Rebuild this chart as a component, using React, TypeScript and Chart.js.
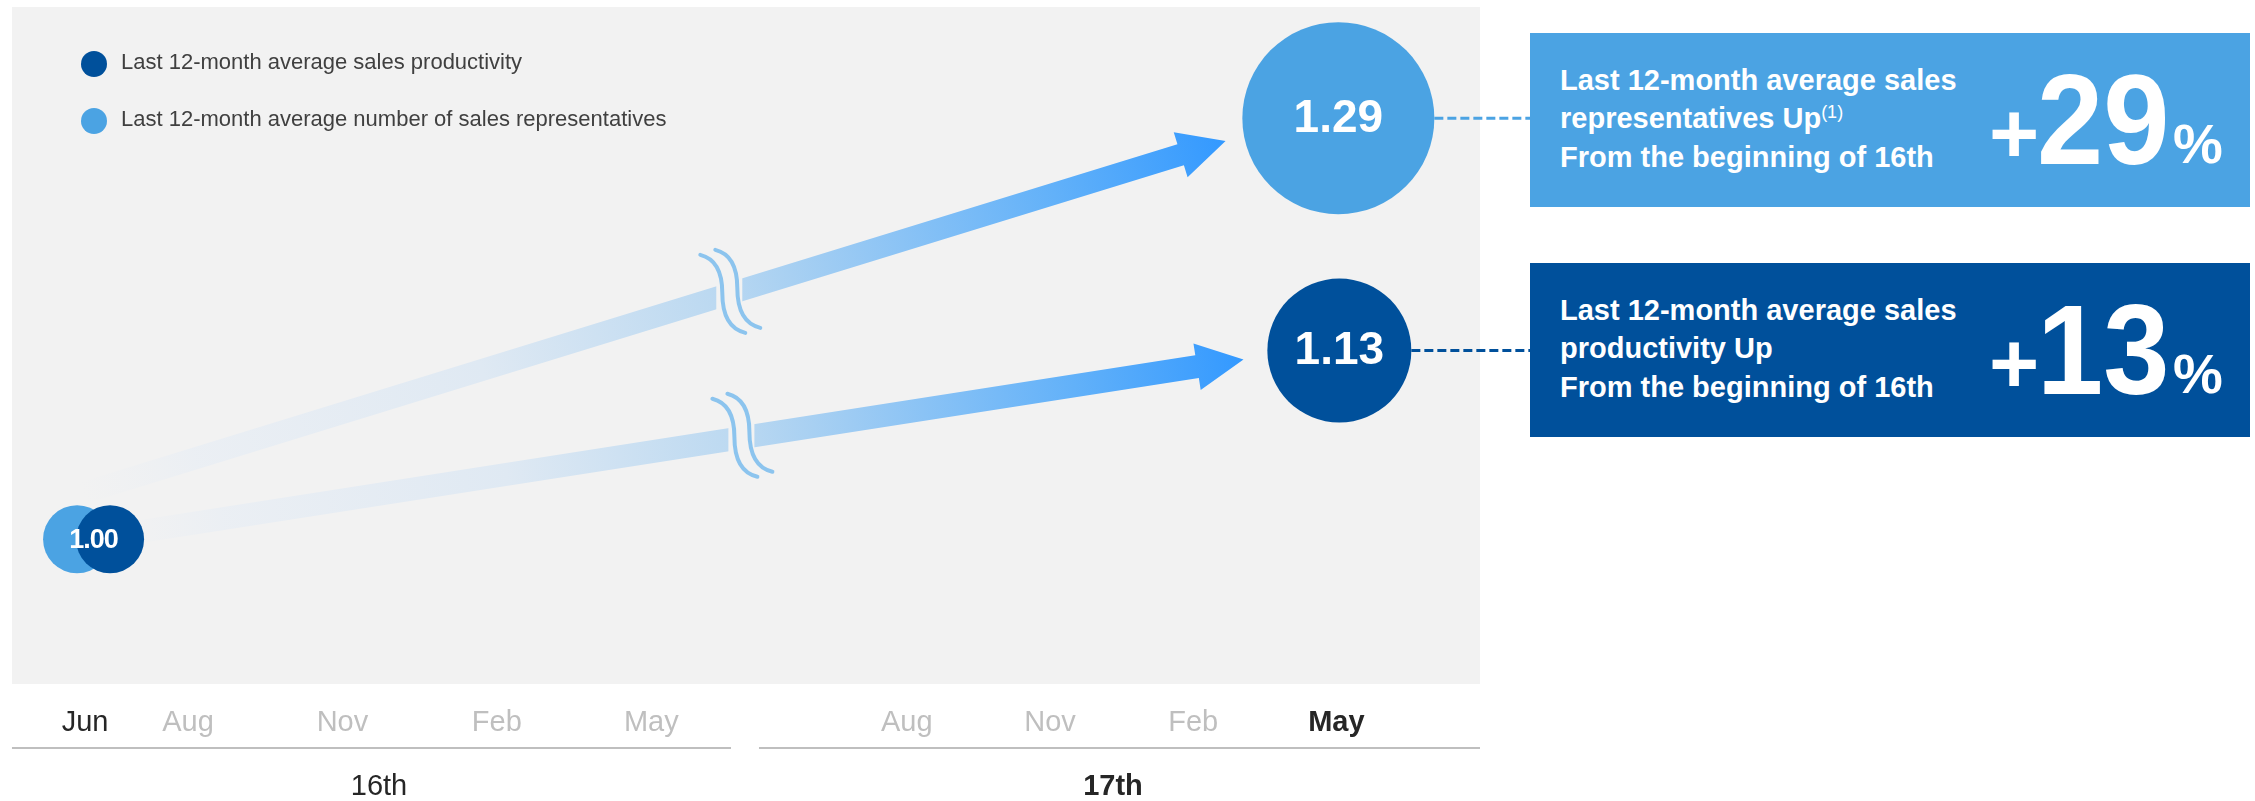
import React, { useEffect, useRef } from 'react';
import { Chart, registerables } from 'chart.js';

Chart.register(...registerables);

// ---------------- data ----------------
const periods = ['16th', '17th'];
const months16 = ['Jun', 'Aug', 'Nov', 'Feb', 'May'];
const monthIdx16 = [0, 2, 5, 8, 11];
const months17 = ['Aug', 'Nov', 'Feb', 'May'];
const monthIdx17 = [14, 17, 20, 23];
const seriesNames = [
  'Last 12-month average sales productivity',
  'Last 12-month average number of sales representatives',
];
const pointMonths = [0, 23]; // Jun of 16th, May of 17th
const productivity = [1.0, 1.13];
const salesReps = [1.0, 1.29];
const boxRepsLines = ['Last 12-month average sales', 'representatives Up', 'From the beginning of 16th'];
const boxProdLines = ['Last 12-month average sales', 'productivity Up', 'From the beginning of 16th'];

// ---------------- styles ----------------
const FONT = "'Liberation Sans', Arial, Helvetica, sans-serif";
const DARK = '#00509B';
const LIGHT = '#4BA3E3';
const PANEL = '#F2F2F2';
const TXT = '#262626';
const GRAYTXT = '#BFBFBF';
const BOX_LEFT = 1530;

const arrowStops: [number, string][] = [
  [0, 'rgba(236,239,243,0)'],
  [0.1, 'rgba(233,238,244,0.8)'],
  [0.35, '#DFE9F3'],
  [0.55, '#BCD9F1'],
  [0.62, '#A8D0F2'],
  [0.85, '#62B1F9'],
  [1, '#3399FF'],
];

const arrows = [
  { start: 2, end: 3, startOff: [5, -46], aimOff: [0, -12], back: 118, shaft: 22, breakT: 0.566 },
  { start: 0, end: 1, startOff: [0, -3], aimOff: [0, -6], back: 97, shaft: 23, breakT: 0.557 },
];

function sCurve(ctx: CanvasRenderingContext2D, x: number, y: number) {
  ctx.beginPath();
  ctx.moveTo(x - 22, y - 38);
  ctx.bezierCurveTo(x - 6, y - 34, x, y - 20, x, y);
  ctx.bezierCurveTo(x, y + 20, x + 6, y + 36, x + 23, y + 40);
  ctx.stroke();
}

const shiftPlugin = {
  id: 'shift',
  afterDatasetsUpdate(chart: any) {
    chart.data.datasets.forEach((ds: any, i: number) => {
      const meta = chart.getDatasetMeta(i);
      meta.data.forEach((el: any) => {
        el.x += ds.shiftX || 0;
      });
    });
  },
};

const panelPlugin = {
  id: 'panel',
  beforeDraw(chart: any) {
    const { ctx, chartArea: a } = chart;
    ctx.save();
    ctx.fillStyle = PANEL;
    ctx.fillRect(a.left, a.top, a.right - a.left, a.bottom - a.top);
    ctx.restore();
  },
};

const arrowPlugin = {
  id: 'arrows',
  beforeDatasetsDraw(chart: any) {
    const ctx: CanvasRenderingContext2D = chart.ctx;
    arrows.forEach((a) => {
      const s = chart.getDatasetMeta(a.start).data[0];
      const e = chart.getDatasetMeta(a.end).data[0];
      const x0 = s.x + a.startOff[0];
      const y0 = s.y + a.startOff[1];
      const ax = e.x + a.aimOff[0];
      const ay = e.y + a.aimOff[1];
      const ang = Math.atan2(ay - y0, ax - x0);
      const L = Math.hypot(ax - x0, ay - y0) - a.back;
      const headL = 47;
      const headW = 47;
      const sw = a.shaft;
      ctx.save();
      ctx.translate(x0, y0);
      ctx.rotate(ang);
      const g = ctx.createLinearGradient(0, 0, L, 0);
      arrowStops.forEach(([t, c]) => g.addColorStop(t, c));
      ctx.fillStyle = g;
      ctx.beginPath();
      ctx.moveTo(0, -sw / 2);
      ctx.lineTo(L - headL, -sw / 2);
      ctx.lineTo(L - headL, -headW / 2);
      ctx.lineTo(L, 0);
      ctx.lineTo(L - headL, headW / 2);
      ctx.lineTo(L - headL, sw / 2);
      ctx.lineTo(0, sw / 2);
      ctx.closePath();
      ctx.fill();
      ctx.restore();
      // axis break
      const t = a.breakT;
      const cx = x0 + Math.cos(ang) * L * t;
      const cy = y0 + Math.sin(ang) * L * t;
      ctx.save();
      ctx.fillStyle = PANEL;
      ctx.fillRect(cx - 13, cy - 30, 26, 60);
      ctx.strokeStyle = '#8CC4EE';
      ctx.lineWidth = 4;
      ctx.lineCap = 'round';
      sCurve(ctx, cx - 7, cy - 1);
      sCurve(ctx, cx + 8, cy - 6);
      ctx.restore();
    });
  },
};

const labelPlugin = {
  id: 'labels',
  afterDatasetsDraw(chart: any) {
    const ctx: CanvasRenderingContext2D = chart.ctx;
    const ps = chart.getDatasetMeta(0).data[0];
    const rs = chart.getDatasetMeta(2).data[0];
    const pe = chart.getDatasetMeta(1).data[0];
    const re = chart.getDatasetMeta(3).data[0];
    ctx.save();
    // dashed connectors
    ctx.setLineDash([9, 4]);
    ctx.lineWidth = 3;
    [[re, LIGHT, 96], [pe, DARK, 72]].forEach(([el, c, r]: any) => {
      ctx.strokeStyle = c;
      ctx.beginPath();
      ctx.moveTo(el.x + r, el.y);
      ctx.lineTo(BOX_LEFT, el.y);
      ctx.stroke();
    });
    ctx.setLineDash([]);
    ctx.fillStyle = '#FFFFFF';
    ctx.textAlign = 'center';
    ctx.textBaseline = 'middle';
    (ctx as any).letterSpacing = '-1px';
    ctx.font = `bold 27px ${FONT}`;
    ctx.fillText(productivity[0].toFixed(2), (ps.x + rs.x) / 2, ps.y + 1);
    (ctx as any).letterSpacing = '0px';
    ctx.font = `bold 46px ${FONT}`;
    ctx.fillText(salesReps[1].toFixed(2), re.x, re.y + 1);
    ctx.fillText(productivity[1].toFixed(2), pe.x, pe.y + 1);

    // legend
    const legendColors = [DARK, LIGHT];
    seriesNames.forEach((name, i) => {
      const y = 64 + i * 57;
      ctx.fillStyle = legendColors[i];
      ctx.beginPath();
      ctx.arc(94, y, 13, 0, Math.PI * 2);
      ctx.fill();
      ctx.fillStyle = '#404040';
      ctx.textAlign = 'left';
      ctx.font = `22px ${FONT}`;
      ctx.fillText(name, 121, y - 1);
    });

    // period separator lines
    const a = chart.chartArea;
    const s16 = chart.scales.x16;
    const s17 = chart.scales.x17;
    ctx.strokeStyle = '#BFBFBF';
    ctx.lineWidth = 2;
    const ly = a.bottom + 64;
    ctx.beginPath();
    ctx.moveTo(s16.left, ly);
    ctx.lineTo(s16.right - 15, ly);
    ctx.moveTo(s17.left + 13, ly);
    ctx.lineTo(s17.right, ly);
    ctx.stroke();
    ctx.restore();
  },
};

function Box({ top, bg, lines, pct, note }: any) {
  return (
    <div
      style={{
        position: 'absolute',
        left: BOX_LEFT,
        top,
        width: 720,
        height: 174,
        background: bg,
        color: '#FFFFFF',
        fontFamily: FONT,
        fontWeight: 700,
      }}
    >
      <div
        style={{
          position: 'absolute',
          left: 30,
          top: 27.7,
          fontSize: 29,
          lineHeight: '38.5px',
          whiteSpace: 'nowrap',
        }}
      >
        <div>{lines[0]}</div>
        <div>
          {lines[1]}
          {note ? (
            <span style={{ fontSize: 18, fontWeight: 400, verticalAlign: '10px', lineHeight: '0px' }}>{note}</span>
          ) : null}
        </div>
        <div>{lines[2]}</div>
      </div>
      <span style={{ position: 'absolute', left: 459, top: 130 - 0.8465 * 86, fontSize: 86, lineHeight: '86px' }}>+</span>
      <span
        style={{
          position: 'absolute',
          left: 507,
          top: 131 - 0.8465 * 128,
          fontSize: 128,
          lineHeight: '128px',
          transform: 'scaleX(0.93)',
          transformOrigin: 'left center',
          whiteSpace: 'nowrap',
        }}
      >
        {pct}
      </span>
      <span style={{ position: 'absolute', left: 643, top: 130 - 0.8465 * 56, fontSize: 56, lineHeight: '56px' }}>%</span>
    </div>
  );
}

export default function App() {
  const ref = useRef<HTMLCanvasElement | null>(null);

  useEffect(() => {
    if (!ref.current) return;
    Chart.defaults.font.family = FONT;
    const chart = new Chart(ref.current, {
      type: 'scatter',
      data: {
        datasets: [
          { label: seriesNames[0], data: [{ x: pointMonths[0], y: productivity[0] }], xAxisID: 'x16', pointBackgroundColor: DARK, pointRadius: 34, shiftX: 25 } as any,
          { label: seriesNames[0], data: [{ x: pointMonths[1], y: productivity[1] }], xAxisID: 'x17', pointBackgroundColor: DARK, pointRadius: 72, shiftX: 3 } as any,
          { label: seriesNames[1], data: [{ x: pointMonths[0], y: salesReps[0] }], xAxisID: 'x16', pointBackgroundColor: LIGHT, pointRadius: 34, shiftX: -8 } as any,
          { label: seriesNames[1], data: [{ x: pointMonths[1], y: salesReps[1] }], xAxisID: 'x17', pointBackgroundColor: LIGHT, pointRadius: 96, shiftX: 2 } as any,
        ].map((d: any) => ({ ...d, pointBorderWidth: 0, pointHoverRadius: d.pointRadius, clip: false })),
      },
      options: {
        responsive: false,
        animation: false,
        devicePixelRatio: 1,
        events: [],
        layout: { autoPadding: false, padding: { left: 10, top: 7, right: 775, bottom: 0 } },
        plugins: { legend: { display: false }, tooltip: { enabled: false } },
        scales: {
          x16: {
            type: 'linear',
            position: 'bottom',
            stack: 'period',
            stackWeight: 1,
            min: -1.42,
            max: 12.84,
            grid: { display: false, drawTicks: false },
            border: { display: false },
            afterBuildTicks: (s: any) => {
              s.ticks = monthIdx16.map((v) => ({ value: v }));
            },
            ticks: {
              autoSkip: false,
              maxRotation: 0,
              padding: 24,
              callback: (v: any) => months16[monthIdx16.indexOf(v)],
              color: (c: any) => (c.index === 0 ? TXT : GRAYTXT),
              font: { size: 29, lineHeight: 1 },
            },
            title: {
              display: true,
              text: periods[0],
              color: TXT,
              font: { size: 29, lineHeight: 1 },
              padding: { top: 11, bottom: 0 },
            },
          } as any,
          x17: {
            type: 'linear',
            position: 'bottom',
            stack: 'period',
            stackWeight: 1,
            min: 10.63,
            max: 26.01,
            grid: { display: false, drawTicks: false },
            border: { display: false },
            afterBuildTicks: (s: any) => {
              s.ticks = monthIdx17.map((v) => ({ value: v }));
            },
            ticks: {
              autoSkip: false,
              maxRotation: 0,
              padding: 24,
              callback: (v: any) => months17[monthIdx17.indexOf(v)],
              color: (c: any) => (c.index === monthIdx17.length - 1 ? TXT : GRAYTXT),
              font: (c: any) => ({ size: 29, lineHeight: 1, weight: c.index === monthIdx17.length - 1 ? 'bold' : 'normal' }),
            },
            title: {
              display: true,
              text: periods[1],
              color: TXT,
              font: { size: 29, lineHeight: 1, weight: 'bold' },
              padding: { top: 11, bottom: 0 },
            },
          } as any,
          y: { display: false, min: 0.9003, max: 1.3666 },
        },
      } as any,
      plugins: [shiftPlugin, panelPlugin, arrowPlugin, labelPlugin],
    });
    return () => chart.destroy();
  }, []);

  const repsPct = Math.round((salesReps[1] / salesReps[0] - 1) * 100);
  const prodPct = Math.round((productivity[1] / productivity[0] - 1) * 100);

  return (
    <div style={{ position: 'fixed', left: 0, top: 0, width: 2255, height: 801, background: '#FFFFFF', overflow: 'hidden' }}>
      <canvas ref={ref} width={2255} height={801} style={{ position: 'absolute', left: 0, top: 0 }} />
      <Box top={33} bg={LIGHT} lines={boxRepsLines} pct={repsPct} note="(1)" />
      <Box top={263} bg={DARK} lines={boxProdLines} pct={prodPct} />
    </div>
  );
}
